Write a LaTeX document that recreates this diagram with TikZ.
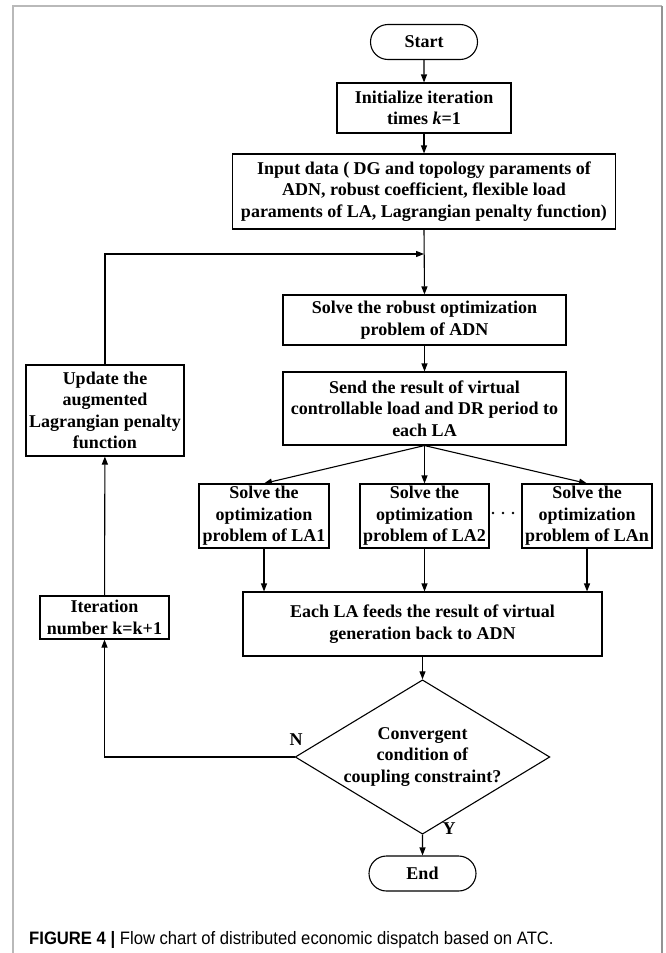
\documentclass[tikz,border=0pt]{standalone}
\usepackage{fontspec}
\setmainfont{Liberation Serif}
\setsansfont{Liberation Sans}
\usetikzlibrary{shapes.misc,shapes.geometric,arrows.meta}
\tikzset{
  base/.style={draw, line width=1.1pt, align=center, inner sep=1pt,
    font=\bfseries\fontsize{18}{21.5}\selectfont},
  boxn/.style={base, rectangle},
  term/.style={base, rounded rectangle},
  decn/.style={base, diamond, aspect=1.65},
  conn/.style={line width=1.1pt, -{Triangle[length=8pt,width=6pt]}},
  plain/.style={line width=1.1pt},
  lbl/.style={font=\bfseries\fontsize{18}{21.5}\selectfont, inner sep=0pt},
}
\begin{document}
\begin{tikzpicture}[x=1pt,y=-1pt]
\useasboundingbox (0,0) rectangle (665,953);
% frame
\draw[line width=1.2pt, gray!55] (13,953) -- (13,6) -- (662,6);
\draw[line width=1.2pt, gray!85] (662,6) -- (662,953);

\node[term, minimum width=109pt, minimum height=35pt] (start) at (424,42) {Start};
\node[boxn, minimum width=174pt, minimum height=50pt] (init) at (424,108) {Initialize iteration\\times \textit{k}=1};
\node[boxn, minimum width=383pt, minimum height=75pt] (input) at (424,191.5) {Input data ( DG and topology paraments of\\ADN, robust coefficient, flexible load\\paraments of LA, Lagrangian penalty function)};
\node[boxn, minimum width=283pt, minimum height=50pt] (solve) at (424.5,320) {Solve the robust optimization\\problem of ADN};
\node[boxn, minimum width=283pt, minimum height=73pt] (send) at (424.5,408.5) {Send the result of virtual\\controllable load and DR period to\\each LA};
\node[boxn, minimum width=158pt, minimum height=91pt] (update) at (105,410.5) {Update the\\augmented\\Lagrangian penalty\\function};
\node[boxn, minimum width=130pt, minimum height=64pt] (la1) at (264,516) {Solve the\\optimization\\problem of LA1};
\node[boxn, minimum width=129pt, minimum height=64pt] (la2) at (424.5,516) {Solve the\\optimization\\problem of LA2};
\node[boxn, minimum width=130pt, minimum height=64pt] (lan) at (587,516) {Solve the\\optimization\\problem of LAn};
\node[boxn, minimum width=359pt, minimum height=64pt] (each) at (422.5,624) {Each LA feeds the result of virtual\\generation back to ADN};
\node[boxn, minimum width=129pt, minimum height=43pt] (iter) at (104.5,617.5) {Iteration\\number k=k+1};
\node[decn, minimum width=215pt, minimum height=130pt, inner sep=0pt] (dec) at (422.5,757) {Convergent\\condition of\\coupling constraint?};
\node[term, minimum width=109pt, minimum height=35pt] (end) at (422.5,873.5) {End};

% dots between LA2 and LAn
\fill (493,513) circle (1.3pt) (503,513) circle (1.3pt) (513,513) circle (1.3pt);

\coordinate (join) at (424,254);

\draw[conn] (start) -- (init);
\draw[conn] (init) -- (input);
\draw[conn] (input.south) -- (solve.north);
\draw[conn] (update.north) |- (join);
\draw[conn] (solve) -- (send);
\draw[conn] (send.south) -- (la1.north);
\draw[conn] (send.south) -- (la2.north);
\draw[conn] (send.south) -- (lan.north);
\draw[conn] (la1.south) -- (la1.south |- each.north);
\draw[conn] (la2.south) -- (la2.south |- each.north);
\draw[conn] (lan.south) -- (lan.south |- each.north);
\draw[conn] (each) -- (dec);
\draw[conn] (dec.west) -| (iter.south);
\draw[conn] (iter) -- (update);
\draw[conn] (dec) -- (end);

\node[lbl] (nlab) at (296,740) {N};
\node[lbl] (ylab) at (449,829) {Y};

\node[anchor=base west, inner sep=0pt, font=\sffamily\fontsize{18}{21}\selectfont] (cap) at (29,944) {\scalebox{0.925}[1]{\textbf{FIGURE 4 |} Flow chart of distributed economic dispatch based on ATC.}};
\end{tikzpicture}
\end{document}
